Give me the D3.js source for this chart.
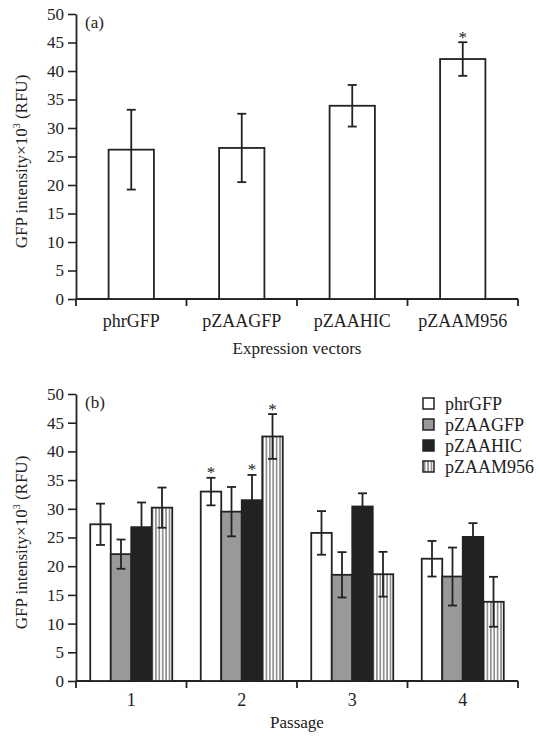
<!DOCTYPE html>
<html>
<head>
<meta charset="utf-8">
<script src="https://cdn.jsdelivr.net/npm/d3@7"></script>
<style>
  body { margin: 0; background: #fff; }
  text { font-family: "Liberation Serif", "Times New Roman", serif; fill: #222; }
</style>
</head>
<body>
<div id="chart"></div>
<script>
// panel (a)
const vectors = ['phrGFP', 'pZAAGFP', 'pZAAHIC', 'pZAAM956'];
const vectorMeans = [26.2, 26.5, 33.9, 42.1];
const vectorErrors = [7.0, 6.0, 3.65, 2.95];
const vectorStars = [false, false, false, true];

// panel (b)
const passages = ['1', '2', '3', '4'];
const phrGFP = [27.3, 33.0, 25.8, 21.3];
const phrGFPErr = [3.6, 2.4, 3.8, 3.1];
const pZAAGFP = [22.1, 29.5, 18.5, 18.2];
const pZAAGFPErr = [2.55, 4.3, 3.95, 5.05];
const pZAAHIC = [26.8, 31.5, 30.4, 25.1];
const pZAAHICErr = [4.3, 4.4, 2.3, 2.4];
const pZAAM956 = [30.2, 42.6, 18.6, 13.8];
const pZAAM956Err = [3.5, 3.9, 3.9, 4.35];
const passageStars = [[false, false, false, false], [true, false, true, true], [false, false, false, false], [false, false, false, false]];

const yTicks = [0, 5, 10, 15, 20, 25, 30, 35, 40, 45, 50];

const W = 539, H = 738;
const left = 76, right = 518;
const ink = "#222";

const svg = d3.select("#chart").append("svg")
    .attr("width", W)
    .attr("height", H);

// stripe pattern for pZAAM956
const defs = svg.append("defs");
const pat = defs.append("pattern")
    .attr("id", "stripes")
    .attr("patternUnits", "userSpaceOnUse")
    .attr("width", 3.4)
    .attr("height", 10);
pat.append("rect").attr("width", 3.4).attr("height", 10).attr("fill", "#fff");
pat.append("line").attr("x1", 1.7).attr("x2", 1.7).attr("y1", 0).attr("y2", 10)
    .attr("stroke", "#8a8a8a").attr("stroke-width", 1.6);

const seriesFill = {phrGFP: "#fff", pZAAGFP: "#999", pZAAHIC: "#222", pZAAM956: "url(#stripes)"};

function drawAxes(y, x, top, bottom, label, title, titleY, tickBaseline, letter) {
    const yAxis = svg.append("g")
        .attr("transform", `translate(${left},0)`)
        .call(d3.axisLeft(y).tickValues(yTicks).tickSize(8).tickSizeOuter(0).tickPadding(4));
    yAxis.selectAll("text").style("font-size", "17px").attr("fill", ink);

    const xAxis = svg.append("g")
        .attr("transform", `translate(0,${bottom})`)
        .call(d3.axisBottom(x).tickSize(0).tickPadding(tickBaseline));
    xAxis.selectAll("text").style("font-size", "18px").attr("fill", ink).attr("dy", 0);
    xAxis.select(".domain").remove();

    // tick marks at band boundaries
    const bounds = x.domain().map(d => x(d)).concat([x.range()[1]]);
    svg.append("g").selectAll("line").data(bounds).enter().append("line")
        .attr("x1", d => d).attr("x2", d => d)
        .attr("y1", bottom).attr("y2", bottom + 7)
        .attr("stroke", ink).attr("stroke-width", 1.8);
    svg.append("line")
        .attr("x1", left).attr("x2", right)
        .attr("y1", bottom).attr("y2", bottom)
        .attr("stroke", ink).attr("stroke-width", 1.8);

    svg.selectAll(".domain").attr("stroke", ink).attr("stroke-width", 1.8);
    svg.selectAll(".tick line").attr("stroke", ink).attr("stroke-width", 1.6);

    svg.append("text")
        .attr("transform", "rotate(-90)")
        .attr("x", -(top + bottom) / 2 - 5)
        .attr("y", 27)
        .attr("text-anchor", "middle")
        .style("font-size", "17px")
        .html('GFP intensity×10<tspan dy="-7" style="font-size:10px">3</tspan><tspan dy="7"> (RFU)</tspan>');

    svg.append("text")
        .attr("x", (left + right) / 2)
        .attr("y", titleY)
        .attr("text-anchor", "middle")
        .style("font-size", "17px")
        .text(title);

    svg.append("text")
        .attr("x", 85)
        .attr("y", top + 14)
        .style("font-size", "17px")
        .text(letter);
}

function errorBar(g, cx, y, mean, err, star) {
    const y1 = y(mean + err), y2 = y(mean - err);
    g.append("line").attr("x1", cx).attr("x2", cx).attr("y1", y1).attr("y2", y2)
        .attr("stroke", ink).attr("stroke-width", 1.8);
    [y1, y2].forEach(v => g.append("line")
        .attr("x1", cx - 4.5).attr("x2", cx + 4.5).attr("y1", v).attr("y2", v)
        .attr("stroke", ink).attr("stroke-width", 1.8));
    if (star) {
        g.append("text").attr("x", cx).attr("y", y1 + 0.5)
            .attr("text-anchor", "middle")
            .style("font-size", "17px")
            .attr("fill", "#555")
            .text("*");
    }
}

// ---------- panel (a) ----------
const yA = d3.scaleLinear().domain([0, 50]).range([299, 14]);
const xA = d3.scaleBand().domain(vectors).range([left, right]).padding(0);
const dataA = vectors.map((v, i) => ({name: v, mean: vectorMeans[i], err: vectorErrors[i], star: vectorStars[i]}));

drawAxes(yA, xA, 14, 299, null, "Expression vectors", 354, 28, "(a)");

const barW = xA.bandwidth() * 0.41;
const gA = svg.append("g");
gA.selectAll("rect").data(dataA).enter().append("rect")
    .attr("x", d => xA(d.name) + (xA.bandwidth() - barW) / 2)
    .attr("y", d => yA(d.mean))
    .attr("width", barW)
    .attr("height", d => yA(0) - yA(d.mean))
    .attr("fill", "#fff")
    .attr("stroke", ink)
    .attr("stroke-width", 1.8);
dataA.forEach(d => errorBar(gA, xA(d.name) + xA.bandwidth() / 2, yA, d.mean, d.err, d.star));

// ---------- panel (b) ----------
const yB = d3.scaleLinear().domain([0, 50]).range([681, 394]);
const xB = d3.scaleBand().domain(passages).range([left, right]).padding(0);
const series = [
    {key: 'phrGFP', vals: phrGFP, errs: phrGFPErr},
    {key: 'pZAAGFP', vals: pZAAGFP, errs: pZAAGFPErr},
    {key: 'pZAAHIC', vals: pZAAHIC, errs: pZAAHICErr},
    {key: 'pZAAM956', vals: pZAAM956, errs: pZAAM956Err}
];
const groupW = 82;
const xInner = d3.scaleBand().domain(series.map(s => s.key))
    .range([(xB.bandwidth() - groupW) / 2, (xB.bandwidth() + groupW) / 2]).padding(0);

drawAxes(yB, xB, 394, 681, null, "Passage", 728, 25, "(b)");

const gB = svg.append("g");
passages.forEach((p, pi) => {
    const grp = gB.append("g").attr("transform", `translate(${xB(p)},0)`);
    series.forEach(s => {
        grp.append("rect")
            .attr("x", xInner(s.key))
            .attr("y", yB(s.vals[pi]))
            .attr("width", xInner.bandwidth())
            .attr("height", yB(0) - yB(s.vals[pi]))
            .attr("fill", seriesFill[s.key])
            .attr("stroke", ink)
            .attr("stroke-width", 1.8);
    });
    series.forEach((s, si) => {
        errorBar(grp, xInner(s.key) + xInner.bandwidth() / 2, yB, s.vals[pi], s.errs[pi], passageStars[pi][si]);
    });
});

// legend
const legend = svg.selectAll(".legend")
    .data(series)
    .enter().append("g")
    .attr("class", "legend")
    .attr("transform", (d, i) => `translate(423,${398 + i * 21})`);
legend.append("rect")
    .attr("width", 11).attr("height", 11)
    .attr("fill", d => seriesFill[d.key])
    .attr("stroke", ink).attr("stroke-width", 1.5);
legend.append("text")
    .attr("x", 22)
    .attr("y", 12)
    .style("font-size", "18px")
    .text(d => d.key);
</script>
</body>
</html>
